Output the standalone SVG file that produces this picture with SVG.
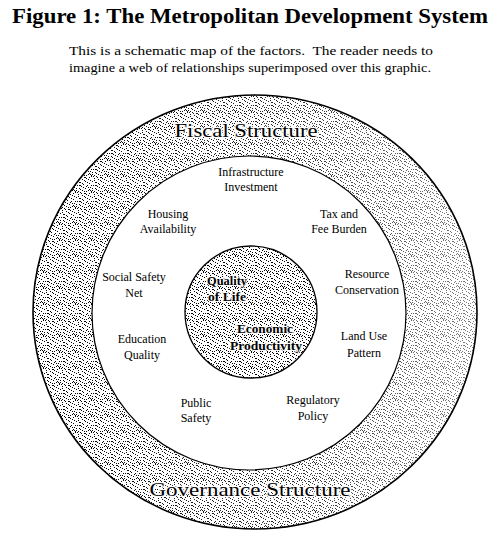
<svg xmlns="http://www.w3.org/2000/svg" width="500" height="538" viewBox="0 0 500 538">
<defs>
<pattern id="stip" width="16" height="16" patternUnits="userSpaceOnUse">
<rect width="16" height="16" fill="#fff"/>
<path fill="#000" d="M0 0h1v1h-1zM5 1h1v1h-1zM11 0h1v1h-1zM14 2h1v1h-1zM2 3h1v1h-1zM8 3h1v1h-1zM12 5h1v1h-1zM0 6h1v1h-1zM5 5h1v1h-1zM9 7h1v1h-1zM15 6h1v1h-1zM3 8h1v1h-1zM7 9h1v1h-1zM13 9h1v1h-1zM1 10h1v1h-1zM10 11h1v1h-1zM5 12h1v1h-1zM15 12h1v1h-1zM2 14h1v1h-1zM8 14h1v1h-1zM12 14h1v1h-1zM6 2h1v1h-1zM10 4h1v1h-1zM3 11h1v1h-1zM14 15h1v1h-1zM0 13h1v1h-1zM7 6h1v1h-1zM11 9h1v1h-1zM4 15h1v1h-1zM9 13h1v1h-1zM1 1h1v1h-1zM13 0h1v1h-1zM4 4h1v1h-1zM15 9h1v1h-1zM6 10h1v1h-1zM12 12h1v1h-1zM9 1h1v1h-1zM2 7h1v1h-1zM11 15h1v1h-1zM6 15h1v1h-1zM14 4h1v1h-1zM8 11h1v1h-1zM0 9h1v1h-1zM4 1h1v1h-1zM10 14h1v1h-1z"/>
</pattern>
<linearGradient id="fade" x1="0" y1="0" x2="1" y2="0">
<stop offset="0" stop-color="#fff" stop-opacity="0"/>
<stop offset="0.55" stop-color="#fff" stop-opacity="0.15"/>
<stop offset="1" stop-color="#fff" stop-opacity="0.5"/>
</linearGradient>
</defs>
<style>
text{font-family:"Liberation Serif","Times New Roman",serif;fill:#000;text-anchor:middle}
.lbl{font-size:12px}
.halo{stroke:#fff;stroke-width:2.5;paint-order:stroke;stroke-linejoin:round}
.core{font-size:12.5px;font-weight:bold;stroke:#fff;stroke-width:2;paint-order:stroke;stroke-linejoin:round}
.ring{font-size:19px}
</style>
<rect width="500" height="538" fill="#fff"/>
<g id="title">
<text x="250" y="23" font-size="20" font-weight="bold" textLength="476" lengthAdjust="spacingAndGlyphs">Figure 1: The Metropolitan Development System</text>
<text x="251" y="55" font-size="12.5" textLength="364" lengthAdjust="spacingAndGlyphs" xml:space="preserve">This is a schematic map of the factors.  The reader needs to</text>
<text x="250" y="72" font-size="12.5" textLength="362" lengthAdjust="spacingAndGlyphs">imagine a web of relationships superimposed over this graphic.</text>
</g>
<g id="outer-ring">
<ellipse cx="255" cy="312" rx="222" ry="217" fill="url(#stip)"/>
<ellipse cx="255" cy="312" rx="222" ry="217" fill="url(#fade)" stroke="#000" stroke-width="1.6"/>
<text class="ring halo" x="246" y="137" textLength="143" lengthAdjust="spacingAndGlyphs">Fiscal Structure</text>
<text class="ring halo" x="250" y="496" textLength="201" lengthAdjust="spacingAndGlyphs">Governance Structure</text>
</g>
<g id="middle-ring">
<circle cx="249" cy="313" r="157" fill="#fff" stroke="#000" stroke-width="1.2"/>
</g>
<g id="core">
<circle cx="251" cy="312" r="66" fill="url(#stip)" stroke="#000" stroke-width="1.3"/>
<text class="core" x="227" y="285" textLength="40" lengthAdjust="spacingAndGlyphs">Quality</text>
<text class="core" x="227" y="301" textLength="38" lengthAdjust="spacingAndGlyphs">of Life</text>
<text class="core" x="265" y="333" textLength="56" lengthAdjust="spacingAndGlyphs">Economic</text>
<text class="core" x="266" y="350" textLength="72" lengthAdjust="spacingAndGlyphs">Productivity</text>
</g>
<g id="infrastructure"><text class="lbl" x="251" y="176">Infrastructure</text><text class="lbl" x="251" y="191">Investment</text></g>
<g id="housing"><text class="lbl" x="168" y="218">Housing</text><text class="lbl" x="168" y="233">Availability</text></g>
<g id="tax"><text class="lbl" x="339" y="218">Tax and</text><text class="lbl" x="339" y="233">Fee Burden</text></g>
<g id="social"><text class="lbl" x="134" y="281">Social Safety</text><text class="lbl" x="134" y="297">Net</text></g>
<g id="resource"><text class="lbl" x="367" y="278">Resource</text><text class="lbl" x="367" y="294">Conservation</text></g>
<g id="education"><text class="lbl" x="142" y="343">Education</text><text class="lbl" x="142" y="359">Quality</text></g>
<g id="landuse"><text class="lbl" x="364" y="340">Land Use</text><text class="lbl" x="364" y="357">Pattern</text></g>
<g id="safety"><text class="lbl" x="196" y="407">Public</text><text class="lbl" x="196" y="422">Safety</text></g>
<g id="regulatory"><text class="lbl" x="313" y="404">Regulatory</text><text class="lbl" x="313" y="420">Policy</text></g>
</svg>
